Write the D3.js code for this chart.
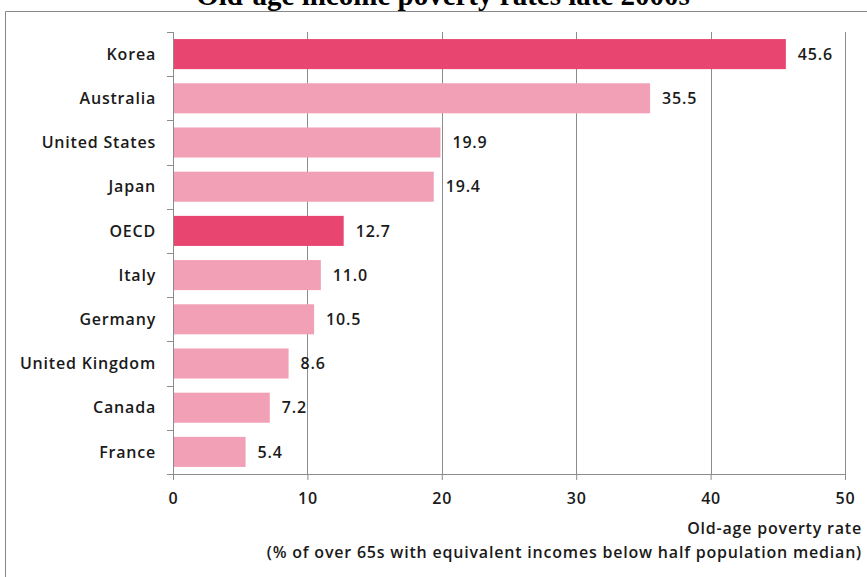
<!DOCTYPE html>
<html>
<head>
<meta charset="utf-8">
<script src="https://cdn.jsdelivr.net/npm/d3@7"></script>
<style>
  body { margin: 0; background: #fff; }
  svg { display: block; }
  .lbl { font-family: "Open Sans", sans-serif; font-weight: 600; fill: #1a1a1a; letter-spacing: 0.8px; }
</style>
</head>
<body>
<div id="chart"></div>
<script>
const countries = ['Korea', 'Australia', 'United States', 'Japan', 'OECD', 'Italy',
                   'Germany', 'United Kingdom', 'Canada', 'France']
const rates     = [45.6, 35.5, 19.9, 19.4, 12.7, 11.0, 10.5, 8.6, 7.2, 5.4]
const highlight = ['Korea', 'OECD']
const xTicks    = [0, 10, 20, 30, 40, 50]
const title     = 'Old-age income poverty rates late 2000s'
const xTitle    = ['Old-age poverty rate', '(% of over 65s with equivalent incomes below half population median)']

const width  = 867,
      height = 577,
      plot   = { left: 173, right: 845, top: 32, bottom: 474 }

const data = countries.map((c, i) => ({ country: c, rate: rates[i] }))

const svg = d3.select('#chart')
  .append('svg')
  .attr('width', width)
  .attr('height', height)

// outer frame
svg.append('path')
  .attr('d', `M5.5,${height} V11.5 H${width}`)
  .attr('fill', 'none')
  .attr('stroke', '#888')
  .attr('stroke-width', 1)

// title is clipped by the top edge, as in the source picture
svg.append('text')
  .attr('x', 443)
  .attr('y', 5)
  .attr('text-anchor', 'middle')
  .attr('font-family', '"Liberation Serif", "Times New Roman", serif')
  .attr('font-weight', 'bold')
  .attr('font-size', 29)
  .text(title)

const x = d3.scaleLinear()
  .domain([0, 50])
  .range([plot.left, plot.right])

const y = d3.scaleBand()
  .domain(countries)
  .range([plot.top, plot.bottom])
  .paddingInner(0.32)
  .paddingOuter(0.16)

// vertical gridlines
svg.append('g')
  .selectAll('line')
  .data(xTicks.slice(1))
  .join('line')
    .attr('x1', d => Math.round(x(d)) + 0.5)
    .attr('x2', d => Math.round(x(d)) + 0.5)
    .attr('y1', plot.top)
    .attr('y2', plot.bottom)
    .attr('stroke', '#8c8c8c')

// bars
svg.append('g')
  .selectAll('rect')
  .data(data)
  .join('rect')
    .attr('x', x(0) + 1)
    .attr('y', d => y(d.country))
    .attr('width', d => x(d.rate) - x(0) - 1)
    .attr('height', y.bandwidth())
    .attr('fill', d => highlight.includes(d.country) ? '#e84570' : '#f2a0b6')

// value labels
svg.append('g')
  .selectAll('text')
  .data(data)
  .join('text')
    .attr('class', 'lbl')
    .attr('x', d => x(d.rate) + 12)
    .attr('y', d => y(d.country) + y.bandwidth() / 2)
    .attr('dy', '0.36em')
    .attr('font-size', 16)
    .text(d => d.rate.toFixed(1))

// y axis: line, ticks at band boundaries
const yAxis = svg.append('g')
yAxis.append('line')
  .attr('x1', plot.left + 0.5).attr('x2', plot.left + 0.5)
  .attr('y1', plot.top).attr('y2', plot.bottom)
  .attr('stroke', '#8c8c8c')
yAxis.selectAll('.tick')
  .data(d3.range(countries.length + 1))
  .join('line')
    .attr('x1', plot.left - 6).attr('x2', plot.left)
    .attr('y1', i => Math.round(plot.top + i * y.step()) + 0.5)
    .attr('y2', i => Math.round(plot.top + i * y.step()) + 0.5)
    .attr('stroke', '#8c8c8c')
yAxis.selectAll('text')
  .data(data)
  .join('text')
    .attr('class', 'lbl')
    .attr('x', plot.left - 17)
    .attr('y', d => y(d.country) + y.bandwidth() / 2)
    .attr('dy', '0.36em')
    .attr('text-anchor', 'end')
    .attr('font-size', 16)
    .text(d => d.country)

// x axis
const xAxis = svg.append('g')
  .attr('transform', `translate(0, ${plot.bottom})`)
  .call(d3.axisBottom(x).tickValues(xTicks).tickSize(6).tickPadding(13).tickSizeOuter(0))
xAxis.select('.domain').attr('stroke', '#8c8c8c')
xAxis.selectAll('.tick line').attr('stroke', '#8c8c8c')
xAxis.selectAll('.tick text')
  .attr('class', 'lbl')
  .attr('font-size', 16)

// x axis title
svg.append('g')
  .selectAll('text')
  .data(xTitle)
  .join('text')
    .attr('class', 'lbl')
    .attr('x', 862)
    .attr('y', (d, i) => 534 + i * 24)
    .attr('text-anchor', 'end')
    .attr('font-size', 16)
    .text(d => d)
</script>
</body>
</html>
